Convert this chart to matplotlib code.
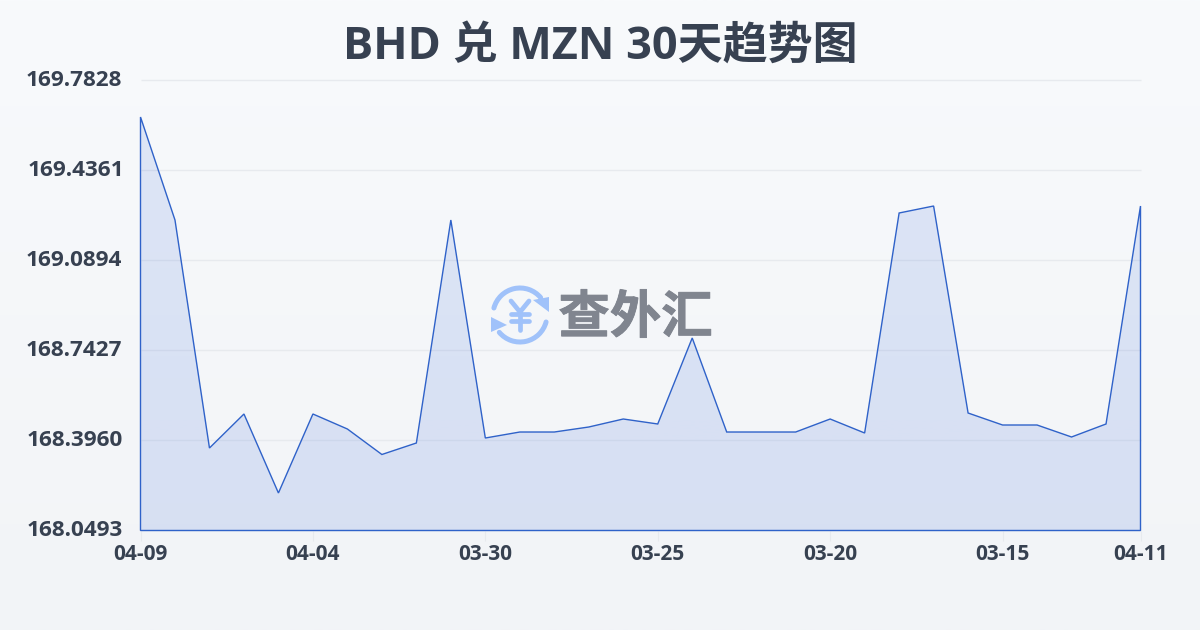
import numpy as np
import matplotlib
matplotlib.use("Agg")
import matplotlib.pyplot as plt
import matplotlib.patheffects as pe
from matplotlib.patches import Arc, Polygon
from matplotlib.transforms import ScaledTranslation

plt.rcParams['font.family'] = ['Open Sans', 'Noto Sans CJK SC', 'DejaVu Sans']

dates = ["04-09", "04-08", "04-07", "04-06", "04-05", "04-04", "04-03", "04-02", "04-01", "03-31",
         "03-30", "03-29", "03-28", "03-27", "03-26", "03-25", "03-24", "03-23", "03-22", "03-21",
         "03-20", "03-19", "03-18", "03-17", "03-16", "03-15", "03-14", "03-13", "03-12", "04-11"]
rates = [169.6422, 169.2454, 168.3671, 168.4981, 168.1938, 168.4981, 168.4403, 168.3421, 168.3864, 169.2454,
         168.4056, 168.4287, 168.4287, 168.4480, 168.4788, 168.4596, 168.7909, 168.4287, 168.4287, 168.4287,
         168.4788, 168.4249, 169.2724, 169.2993, 168.5019, 168.4557, 168.4557, 168.4095, 168.4596, 169.2993]
y_ticks = [168.0493, 168.3960, 168.7427, 169.0894, 169.4361, 169.7828]
x_tick_idx = [0, 5, 10, 15, 20, 25, 29]

TEXT = "#374151"
LINE = "#2f62c9"

fig = plt.figure(figsize=(12, 6.3), dpi=100)

# page background gradient
bg = fig.add_axes([0, 0, 1, 1], zorder=0)
bg.imshow(np.linspace(0, 1, 256).reshape(-1, 1),
          cmap=matplotlib.colors.LinearSegmentedColormap.from_list("bg", ["#f8fafc", "#f2f4f7"]),
          aspect="auto", extent=[0, 1200, 630, 0])
bg.set_xlim(0, 1200)
bg.set_ylim(630, 0)
bg.axis("off")

ax = fig.add_axes([140.5 / 1200, 1 - 530.5 / 630, 1000 / 1200, 450 / 630], zorder=1)
ax.patch.set_alpha(0)
x = np.arange(len(rates))

ax.grid(axis="y", color="#e7eaee", lw=1)
ax.set_axisbelow(True)
for s in ax.spines.values():
    s.set_visible(False)

# area fill
grad = np.linspace(0.125, 0.145, 256).reshape(-1, 1)
rgba = np.zeros((256, 1, 4))
rgba[..., :3] = matplotlib.colors.to_rgb("#2f62d9")
rgba[..., 3] = grad
im = ax.imshow(rgba, aspect="auto", extent=[0, len(rates) - 1, y_ticks[0], y_ticks[-1]],
               origin="upper", zorder=2)
ax.set_xlim(0, len(rates) - 1)
ax.set_ylim(y_ticks[0], y_ticks[-1])
outline = np.column_stack([np.r_[x[0], x, x[-1]], np.r_[y_ticks[0], rates, y_ticks[0]]])
poly = Polygon(outline, closed=True, fc="none", ec=LINE, lw=1, joinstyle="miter", zorder=3,
               clip_on=False, snap=False)
ax.add_patch(poly)
im.set_clip_path(poly)

ax.set_yticks(y_ticks)
ax.set_yticklabels([f"{v:.4f}" for v in y_ticks], fontsize=16.2, fontweight="bold", color=TEXT)
ax.tick_params(axis="y", length=0, pad=13)
for line in ax.get_ygridlines():
    line.set_clip_on(False)
    line.set_solid_capstyle("butt")
# labels sit a little above their grid line, 169.4361 a bit further right
for tick, v in zip(ax.yaxis.get_major_ticks(), y_ticks):
    if v == 169.4361:
        tick.set_pad(11.5)
    lab = tick.label1
    lab.set_transform(lab.get_transform() + ScaledTranslation(0, 2 / 100, fig.dpi_scale_trans))
ax.set_xticks(x_tick_idx)
ax.set_xticklabels([dates[i] for i in x_tick_idx], fontsize=15, fontweight="bold", color=TEXT)
ax.tick_params(axis="x", length=7.5, width=0.8, color="#e7eaee", pad=2)

fig.text(600 / 1200, 1 - 47.5 / 630, "BHD 兑 MZN 30天趋势图", ha="center", va="center",
         fontsize=32.4, fontweight="bold", color=TEXT)

# watermark, drawn in pixel coordinates
wm = fig.add_axes([0, 0, 1, 1], zorder=4)
wm.set_xlim(0, 1200)
wm.set_ylim(630, 0)
wm.axis("off")
ICON = "#a0c2fa"
wm.add_patch(Arc((520, 315), 54, 54, theta1=195, theta2=320, color=ICON, lw=3.6, capstyle="round"))
wm.add_patch(Arc((520, 315), 54, 54, theta1=15, theta2=140, color=ICON, lw=3.6, capstyle="round"))
wm.add_patch(Polygon([[533, 300], [549, 297], [549, 312]], closed=True, fc=ICON, ec="none"))
wm.add_patch(Polygon([[491, 317], [507, 325], [491, 332]], closed=True, fc=ICON, ec="none"))
# yen sign
for xs, ys in [([511, 520, 529], [301, 312, 301]), ([520, 520], [312, 330]),
               ([511, 529], [314, 314]), ([511, 529], [321, 321])]:
    wm.plot(xs, ys, color=ICON, lw=3.4, solid_capstyle="round", solid_joinstyle="round")
wm.text(635.5, 317.5, "查外汇", ha="center", va="center", fontsize=37, fontweight="black",
        color="#80858f", family=["Noto Sans CJK SC"],
        path_effects=[pe.withStroke(linewidth=0.6, foreground="#80858f")])

fig.savefig("out.png", dpi=100)
